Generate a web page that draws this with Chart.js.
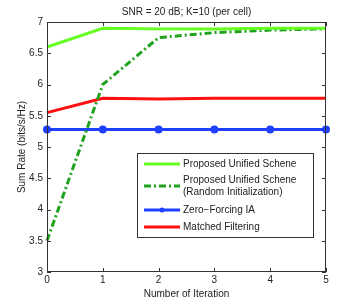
<!DOCTYPE html>
<html><head><meta charset="utf-8">
<script src="https://cdn.jsdelivr.net/npm/chart.js@4/dist/chart.umd.min.js"></script>
<style>html,body{margin:0;padding:0;background:#fff}#wrap{width:360px;height:308px;position:relative}</style>
</head><body><div id="wrap"><canvas id="c" width="360" height="308"></canvas></div>
<script>
const iterations = [0, 1, 2, 3, 4, 5];
const proposed = [6.6, 6.9, 6.89, 6.89, 6.9, 6.9];
const proposedRandom = [3.5, 6.0, 6.75, 6.83, 6.87, 6.89];
const zeroForcing = [5.28, 5.28, 5.28, 5.28, 5.28, 5.28];
const matchedFiltering = [5.55, 5.78, 5.77, 5.78, 5.78, 5.78];
const xTicks = [0, 1, 2, 3, 4, 5];
const yTicks = [3, 3.5, 4, 4.5, 5, 5.5, 6, 6.5, 7];
const seriesNames = ['Proposed Unified Schene', ['Proposed Unified Schene', '(Random Initialization)'], 'Zero\u2212Forcing IA', 'Matched Filtering'];
const titleText = 'SNR = 20 dB; K=10 (per cell)';

const FONT = '"Liberation Sans", Arial, sans-serif';
const pts = a => iterations.map((x, i) => ({x: x, y: a[i]}));

const axisPlugin = {
  id: 'matlabAxes',
  afterDraw(chart) {
    const ctx = chart.ctx, a = chart.chartArea;
    const xs = chart.scales.x, ys = chart.scales.y;
    ctx.save();
    ctx.strokeStyle = '#333';
    ctx.lineWidth = 1;
    ctx.strokeRect(a.left + 0.5, a.top + 0.5, a.right - a.left - 1, a.bottom - a.top - 1);
    ctx.beginPath();
    xTicks.forEach(v => {
      const px = Math.round(xs.getPixelForValue(v)) + 0.5;
      ctx.moveTo(px, a.bottom); ctx.lineTo(px, a.bottom - 4);
      ctx.moveTo(px, a.top); ctx.lineTo(px, a.top + 4);
    });
    yTicks.forEach(v => {
      const py = Math.round(ys.getPixelForValue(v)) + 0.5;
      ctx.moveTo(a.left, py); ctx.lineTo(a.left + 4, py);
      ctx.moveTo(a.right, py); ctx.lineTo(a.right - 4, py);
    });
    ctx.stroke();
    // title
    ctx.fillStyle = '#222';
    ctx.font = '10px ' + FONT;
    ctx.textAlign = 'center';
    ctx.textBaseline = 'middle';
    ctx.fillText(titleText, (a.left + a.right) / 2, 12);
    // legend
    const bx = 137, by = 153, bw = 176, bh = 84;
    ctx.fillStyle = '#fff';
    ctx.fillRect(bx, by, bw, bh);
    ctx.strokeStyle = '#333';
    ctx.strokeRect(bx + 0.5, by + 0.5, bw, bh);
    const rows = [164, 186, 210, 227];
    const textRows = [[164], [180, 192], [210], [227]];
    chart.data.datasets.forEach((ds, i) => {
      const y = rows[i];
      ctx.strokeStyle = ds.borderColor;
      ctx.lineWidth = ds.borderWidth;
      ctx.setLineDash(ds.borderDash || []);
      ctx.beginPath();
      ctx.moveTo(bx + 7, y); ctx.lineTo(bx + 43, y);
      ctx.stroke();
      ctx.setLineDash([]);
      if (ds.pointRadius > 0) {
        ctx.fillStyle = ds.borderColor;
        ctx.beginPath();
        ctx.arc(bx + 25, y, ds.pointRadius, 0, Math.PI * 2);
        ctx.fill();
      }
      ctx.fillStyle = '#222';
      ctx.font = '10px ' + FONT;
      ctx.textAlign = 'left';
      ctx.textBaseline = 'middle';
      const names = Array.isArray(seriesNames[i]) ? seriesNames[i] : [seriesNames[i]];
      names.forEach((t, k) => ctx.fillText(t, bx + 46, textRows[i][k]));
    });
    ctx.restore();
  }
};

new Chart(document.getElementById('c'), {
  type: 'line',
  data: {
    datasets: [
      {label: 'Proposed Unified Schene', data: pts(proposed), borderColor: '#66ff22', borderWidth: 3, pointRadius: 0, tension: 0},
      {label: 'Proposed Unified Schene (Random Initialization)', data: pts(proposedRandom), borderColor: '#1fa31f', borderWidth: 3, borderDash: [7, 3, 2, 3], pointRadius: 0, tension: 0},
      {label: 'Zero-Forcing IA', data: pts(zeroForcing), borderColor: '#2040ff', backgroundColor: '#2040ff', borderWidth: 3, pointRadius: 2.5, pointStyle: 'circle', tension: 0},
      {label: 'Matched Filtering', data: pts(matchedFiltering), borderColor: '#ff1010', borderWidth: 3, pointRadius: 0, tension: 0}
    ]
  },
  options: {
    responsive: false,
    animation: false,
    devicePixelRatio: 1,
    clip: false,
    layout: {padding: {top: 22, right: 34, left: 16, bottom: 8}},
    plugins: {legend: {display: false}, title: {display: false}, tooltip: {enabled: false}},
    scales: {
      x: {
        type: 'linear', min: 0, max: 5,
        afterBuildTicks: s => { s.ticks = xTicks.map(v => ({value: v})); },
        afterFit: s => { s.height = 28; },
        grid: {display: false, drawTicks: false},
        border: {display: false},
        ticks: {color: '#222', font: {family: FONT, size: 10}, padding: 2, maxRotation: 0, callback: v => String(v)},
        title: {display: true, text: 'Number of Iteration', color: '#222', font: {family: FONT, size: 10}, padding: {top: 2, bottom: 0}}
      },
      y: {
        type: 'linear', min: 3, max: 7,
        afterBuildTicks: s => { s.ticks = yTicks.map(v => ({value: v})); },
        afterFit: s => { s.width = 31; },
        grid: {display: false, drawTicks: false},
        border: {display: false},
        ticks: {color: '#222', font: {family: FONT, size: 10}, padding: 4, callback: v => String(v)},
        title: {display: true, text: 'Sum Rate (bits/s/Hz)', color: '#222', font: {family: FONT, size: 10}, padding: {top: 0, bottom: 0}}
      }
    }
  },
  plugins: [axisPlugin]
});
</script></body></html>
